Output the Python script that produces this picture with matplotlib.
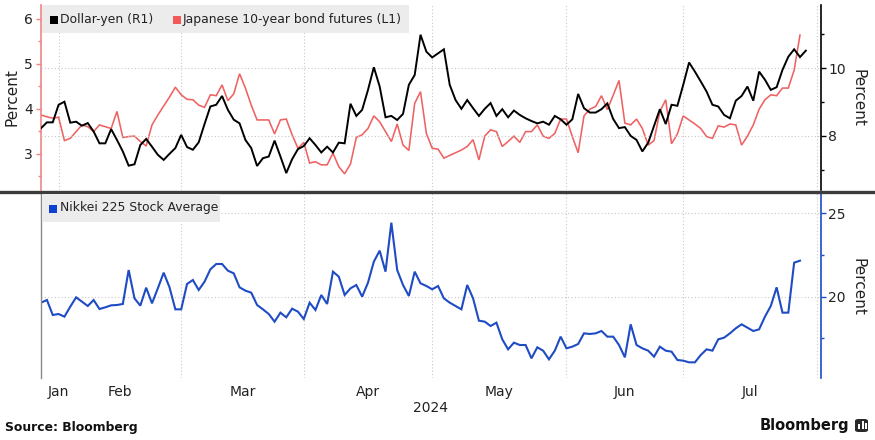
import numpy as np
import pandas as pd
import matplotlib
matplotlib.use("Agg")
import matplotlib.pyplot as plt
from matplotlib.patches import Rectangle, FancyBboxPatch
from matplotlib.lines import Line2D

# ---------------- data ----------------
start_date = "2024-01-29"
usdjpy_vol = [8.23, 8.40, 8.40, 8.92, 9.01, 8.39, 8.42, 8.30, 8.38, 8.13,
              7.78, 7.78, 8.20, 7.88, 7.54, 7.12, 7.16, 7.73, 7.91, 7.68,
              7.44, 7.29, 7.47, 7.64, 8.03, 7.67, 7.59, 7.81, 8.35, 8.87,
              8.92, 9.18, 8.77, 8.48, 8.37, 7.88, 7.64, 7.11, 7.34, 7.39,
              7.86, 7.39, 6.90, 7.31, 7.61, 7.70, 7.93, 7.73, 7.51, 7.68,
              7.51, 7.80, 7.78, 8.95, 8.59, 8.77, 9.36, 10.03, 9.46, 8.55,
              8.59, 8.47, 8.65, 9.51, 9.80, 10.99, 10.49, 10.32, 10.44, 10.56,
              9.51, 9.06, 8.80, 9.06, 8.82, 8.59, 8.80, 8.97, 8.59, 8.79,
              8.55, 8.75, 8.62, 8.52, 8.44, 8.37, 8.42, 8.33, 8.59, 8.49,
              8.33, 8.49, 9.24, 8.82, 8.69, 8.69, 8.79, 8.96, 8.50, 8.23,
              8.26, 8.00, 7.88, 7.54, 7.80, 8.30, 8.79, 8.35, 8.92, 8.89,
              9.51, 10.17, 9.90, 9.61, 9.31, 8.92, 8.87, 8.62, 8.52, 9.04,
              9.18, 9.46, 9.04, 9.90, 9.66, 9.36, 9.44, 9.95, 10.34, 10.56,
              10.33, 10.52]
jgb_vol = [3.86, 3.82, 3.79, 3.81, 3.29, 3.34, 3.49, 3.64, 3.60, 3.49,
           3.64, 3.60, 3.56, 3.94, 3.36, 3.38, 3.39, 3.27, 3.17, 3.64,
           3.86, 4.06, 4.26, 4.48, 4.31, 4.21, 4.20, 4.08, 4.03, 4.31,
           4.29, 4.53, 4.18, 4.33, 4.78, 4.46, 4.08, 3.75, 3.75, 3.75,
           3.44, 3.75, 3.77, 3.42, 3.12, 3.25, 2.79, 2.82, 2.75, 2.75,
           3.01, 2.71, 2.55, 2.77, 3.36, 3.42, 3.56, 3.84, 3.71, 3.49,
           3.27, 3.66, 3.19, 3.07, 4.12, 4.38, 3.45, 3.12, 3.10, 2.90,
           2.96, 3.02, 3.08, 3.16, 3.31, 2.86, 3.39, 3.53, 3.49, 3.16,
           3.27, 3.39, 3.25, 3.49, 3.49, 3.64, 3.39, 3.34, 3.45, 3.77,
           3.77, 3.38, 3.02, 3.84, 3.99, 4.05, 4.29, 3.98, 4.30, 4.63,
           3.68, 3.64, 3.77, 3.56, 3.19, 3.29, 3.94, 4.20, 3.22, 3.44,
           3.84, 3.75, 3.66, 3.56, 3.38, 3.34, 3.62, 3.59, 3.66, 3.64,
           3.19, 3.39, 3.64, 3.99, 4.20, 4.31, 4.29, 4.46, 4.46, 4.86,
           5.64]
nikkei_vol = [19.64, 19.80, 18.90, 18.96, 18.80, 19.40, 19.96, 19.70, 19.44, 19.80,
              19.26, 19.36, 19.48, 19.50, 19.56, 21.60, 19.90, 19.46, 20.54, 19.60,
              20.50, 21.44, 20.56, 19.24, 19.24, 20.76, 21.00, 20.40, 20.90, 21.64,
              21.96, 21.96, 21.56, 21.40, 20.56, 20.36, 20.24, 19.50, 19.24, 18.96,
              18.50, 19.04, 18.76, 19.28, 19.10, 18.66, 19.64, 19.20, 20.10, 19.56,
              21.50, 21.20, 20.10, 20.50, 20.70, 20.00, 20.84, 22.10, 22.76, 21.50,
              24.44, 21.60, 20.70, 20.04, 21.50, 20.80, 20.64, 20.44, 20.64, 19.90,
              19.64, 19.44, 19.24, 20.70, 19.90, 18.56, 18.50, 18.24, 18.44, 17.44,
              16.84, 17.24, 17.10, 17.10, 16.30, 16.96, 16.76, 16.24, 16.76, 17.60,
              16.90, 17.00, 17.16, 17.80, 17.76, 17.80, 17.94, 17.60, 17.60, 17.10,
              16.36, 18.34, 17.10, 16.90, 16.76, 16.40, 17.00, 16.76, 16.70, 16.20,
              16.16, 16.06, 16.06, 16.50, 16.84, 16.76, 17.44, 17.54, 17.80, 18.10,
              18.34, 18.14, 17.94, 18.04, 18.80, 19.44, 20.56, 19.04, 19.04, 22.04,
              22.16]
month_labels = ["Jan", "Feb", "Mar", "Apr", "May", "Jun", "Jul"]
year_label = "2024"
left_ticks = [3, 4, 5, 6]
right_top_ticks = [8, 10]
right_bot_ticks = [20, 25]
legend_top = ["Dollar-yen (R1)", "Japanese 10-year bond futures (L1)"]
legend_bot = "Nikkei 225 Stock Average"

# ---------------- styling ----------------
RED = "#ef6262"
RED_SPINE = "#f08585"
BLACK = "#000000"
BLUE = "#1f4cc4"
GRID = "#c8c8c8"
TXT = "#222222"

W, H = 875, 440
fig = plt.figure(figsize=(W / 100, H / 100), dpi=100)
fig.patch.set_facecolor("white")


def fx(px):
    return px / W


def fy(py):
    return 1 - py / H


AX_L, AX_R = 40.5, 821
top_t, top_b = 5, 190
bot_t, bot_b = 193, 378

ax1 = fig.add_axes([fx(AX_L), fy(top_b), (AX_R - AX_L) / W, (top_b - top_t) / H])
ax2 = ax1.twinx()
ax3 = fig.add_axes([fx(AX_L), fy(bot_b), (AX_R - AX_L) / W, (bot_b - bot_t) / H])

# business-day x positions
full_days = pd.bdate_range(start_date, "2024-08-15")
month_starts = [int(full_days.searchsorted(pd.Timestamp(f"2024-{m:02d}-01"))) for m in range(2, 9)]
label_pos = [month_starts[0]] + [(month_starts[k] + month_starts[k + 1]) / 2 for k in range(6)]
x_usd = np.arange(len(usdjpy_vol))
x_jgb = np.arange(len(jgb_vol))
x_nk = np.arange(len(nikkei_vol))
XLIM = (-0.1, 133.6)

# ---- top panel ----
ax1.plot(x_jgb, jgb_vol, color=RED, lw=1.15, solid_joinstyle="miter")
ax2.plot(x_usd, usdjpy_vol, color=BLACK, lw=1.4, solid_joinstyle="miter")
for a in (ax1, ax2, ax3):
    a.set_xlim(*XLIM)
    a.set_facecolor("none")
ax1.set_ylim(2.19, 6.31)
ax2.set_ylim(6.40, 11.87)
ax3.set_ylim(15.12, 26.22)

ax1.set_xticks([])
ax1.set_xticks(month_starts, minor=True)
ax1.tick_params(axis="x", which="both", length=0, labelbottom=False)
ax1.grid(which="minor", axis="x", color=GRID, linestyle=(0, (1, 2)), lw=0.8)

ax1.set_yticks(left_ticks)
ax1.set_yticks([2.5, 3.5, 4.5, 5.5], minor=True)
ax1.tick_params(axis="y", which="major", colors=RED_SPINE, length=3.5, width=1,
                labelcolor=TXT, labelsize=10, pad=2)
ax1.tick_params(axis="y", which="minor", colors=RED_SPINE, length=2.5, width=1)

ax2.set_yticks(right_top_ticks)
ax2.set_yticks([7, 9, 11], minor=True)
ax2.tick_params(axis="y", which="major", colors=BLACK, length=3.5, width=1,
                labelcolor=TXT, labelsize=10, pad=1.5)
ax2.tick_params(axis="y", which="minor", colors=BLACK, length=2.5, width=1)
ax2.grid(axis="y", which="major", color=GRID, linestyle=(0, (1, 2)), lw=0.8)

for s in ("top", "bottom", "right"):
    ax1.spines[s].set_visible(False)
ax1.spines["left"].set_color(RED_SPINE)
ax1.spines["left"].set_linewidth(1.2)
for s in ("top", "bottom", "left"):
    ax2.spines[s].set_visible(False)
ax2.spines["right"].set_color(BLACK)
ax2.spines["right"].set_linewidth(1.2)

# ---- bottom panel ----
ax3.plot(x_nk, nikkei_vol, color=BLUE, lw=1.5, solid_joinstyle="miter")
ax3.yaxis.tick_right()
ax3.set_yticks(right_bot_ticks)
ax3.set_yticks([17.5, 22.5], minor=True)
ax3.tick_params(axis="y", which="major", colors=BLUE, length=3.5, width=1,
                labelcolor=TXT, labelsize=10, pad=1.5)
ax3.tick_params(axis="y", which="minor", colors=BLUE, length=2.5, width=1)
ax3.grid(axis="y", which="major", color=GRID, linestyle=(0, (1, 2)), lw=0.8)
ax3.set_xticks(label_pos, month_labels)
ax3.set_xticks(month_starts, minor=True)
ax3.tick_params(axis="x", which="both", length=0, labelsize=10, labelcolor=TXT, pad=5)
ax3.grid(which="minor", axis="x", color=GRID, linestyle=(0, (1, 2)), lw=0.8)
for s in ("top", "bottom"):
    ax3.spines[s].set_visible(False)
ax3.spines["left"].set_color("#8a8a8a")
ax3.spines["left"].set_linewidth(1.0)
ax3.spines["right"].set_color(BLUE)
ax3.spines["right"].set_linewidth(1.2)

# ---- axis titles ----
fig.text(fx(12), fy(97.5), "Percent", rotation=90, ha="center", va="center",
         fontsize=11, color=TXT)
fig.text(fx(858), fy(98), "Percent", rotation=270, ha="center", va="center",
         fontsize=11, color=TXT)
fig.text(fx(858), fy(287), "Percent", rotation=270, ha="center", va="center",
         fontsize=11, color=TXT)
fig.text(fx(431), fy(408), year_label, ha="center", va="center", fontsize=10, color=TXT)

# ---- separator ----
fig.add_artist(Line2D([0, 1], [fy(191.6), fy(191.6)], color="#3c3c3c", lw=2.4,
                      transform=fig.transFigure))

# ---- legends ----
LEG_BG = "#ececec"
fig.add_artist(Rectangle((fx(42), fy(33)), (409 - 42) / W, 28 / H,
                         transform=fig.transFigure, facecolor=LEG_BG, edgecolor="none", zorder=5))
fig.add_artist(Rectangle((fx(50), fy(24.5)), 8 / W, 8.5 / H, transform=fig.transFigure,
                         facecolor=BLACK, edgecolor="none", zorder=6))
fig.text(fx(59.5), fy(19.5), legend_top[0], ha="left", va="center", fontsize=8.9,
         color=TXT, zorder=7)
fig.add_artist(Rectangle((fx(173), fy(24.5)), 8 / W, 8.5 / H, transform=fig.transFigure,
                         facecolor="#f25a5a", edgecolor="none", zorder=6))
fig.text(fx(182.5), fy(19.5), legend_top[1], ha="left", va="center", fontsize=8.9,
         color=TXT, zorder=7)

fig.add_artist(Rectangle((fx(42), fy(222)), (220 - 42) / W, 28 / H,
                         transform=fig.transFigure, facecolor=LEG_BG, edgecolor="none", zorder=5))
fig.add_artist(Rectangle((fx(49), fy(213)), 8 / W, 8.5 / H, transform=fig.transFigure,
                         facecolor="#1040d0", edgecolor="none", zorder=6))
fig.text(fx(59.5), fy(208), legend_bot, ha="left", va="center", fontsize=8.9,
         color=TXT, zorder=7)

# ---- footer ----
fig.text(fx(5), fy(427), "Source: Bloomberg", ha="left", va="center", fontsize=8.9,
         fontweight="bold", color="#111111")
fig.text(fx(849), fy(425), "Bloomberg", ha="right", va="center", fontsize=10.5,
         fontweight="bold", color="#111111")
fig.add_artist(FancyBboxPatch((fx(855), fy(432)), 13 / W, 13 / H,
                              boxstyle="round,pad=0,rounding_size=0.004",
                              transform=fig.transFigure, facecolor="#2a2a2a", edgecolor="none"))
for bx, bh in ((858, 5), (861.5, 8), (865, 6)):
    fig.add_artist(Rectangle((fx(bx), fy(429)), 2 / W, bh / H, transform=fig.transFigure,
                             facecolor="white", edgecolor="none"))

fig.savefig("out.png", dpi=100, facecolor="white")
